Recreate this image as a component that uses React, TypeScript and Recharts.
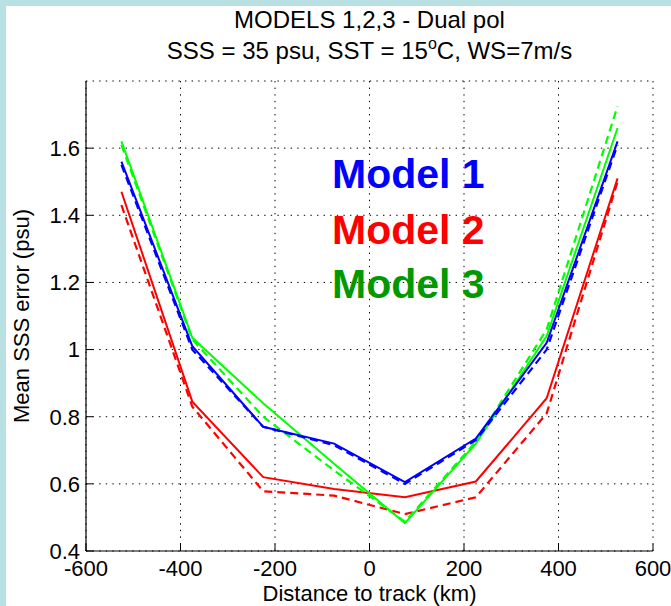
import React from "react";
import { LineChart, Line, XAxis, YAxis, CartesianGrid } from "recharts";

// Distance to track (km)
const distances = [-525, -375, -225, -75, 75, 225, 375, 525];

// Mean SSS error (psu)
const model1Solid = [1.56, 1.01, 0.77, 0.72, 0.605, 0.735, 1.02, 1.62];
const model1Dashed = [1.55, 1.0, 0.77, 0.715, 0.6, 0.73, 1.0, 1.61];
const model2Solid = [1.47, 0.845, 0.62, 0.585, 0.56, 0.607, 0.855, 1.51];
const model2Dashed = [1.43, 0.83, 0.578, 0.565, 0.51, 0.56, 0.81, 1.5];
const model3Solid = [1.62, 1.035, 0.84, 0.66, 0.483, 0.72, 1.04, 1.66];
const model3Dashed = [1.61, 1.03, 0.8, 0.64, 0.487, 0.725, 1.06, 1.725];

const xTicks = [-600, -400, -200, 0, 200, 400, 600];
const yTicks = [0.4, 0.6, 0.8, 1.0, 1.2, 1.4, 1.6];

const titleLine1 = "MODELS 1,2,3 - Dual pol";
const xLabel = "Distance to track (km)";
const yLabel = "Mean SSS error (psu)";
const modelLabels = ["Model 1", "Model 2", "Model 3"];

const data = distances.map((d, i) => ({
  x: d,
  m1s: model1Solid[i],
  m1d: model1Dashed[i],
  m2s: model2Solid[i],
  m2d: model2Dashed[i],
  m3s: model3Solid[i],
  m3d: model3Dashed[i],
}));

const FONT = "'Liberation Sans', Arial, Helvetica, sans-serif";
const BLUE = "#0000ff";
const RED = "#ff0000";
const GREEN = "#00ff00";
const DASH = "8 5";

const fmtY = (v: number) => (Math.abs(v - 1) < 1e-9 ? "1" : String(Math.round(v * 10) / 10));

export default function App() {
  return (
    <div
      style={{
        position: "fixed",
        left: 0,
        top: 0,
        width: 671,
        height: 606,
        background: "#b9e0e3",
        overflow: "hidden",
      }}
    >
      <div
        style={{
          position: "absolute",
          left: 6,
          top: 6,
          width: 665,
          height: 600,
          background: "#ffffff",
        }}
      />
      <div style={{ position: "absolute", left: 0, top: 0 }}>
        <LineChart
          width={671}
          height={606}
          data={data}
          margin={{ top: 81, right: 18, bottom: 0, left: 0 }}
        >
          <CartesianGrid stroke="#000" strokeDasharray="1.4 5.2" strokeWidth={1} />
          <XAxis
            dataKey="x"
            type="number"
            domain={[-600, 600]}
            ticks={xTicks}
            height={55}
            tickLine={{ stroke: "#000", strokeWidth: 1 }}
            tickSize={-7}
            tickMargin={16}
            axisLine={{ stroke: "#000", strokeWidth: 1.2 }}
            tick={{ fill: "#000", fontSize: 22, fontFamily: FONT }}
            interval={0}
          />
          <YAxis
            type="number"
            domain={[0.4, 1.8]}
            ticks={yTicks}
            width={86}
            tickLine={{ stroke: "#000", strokeWidth: 1 }}
            tickSize={-7}
            tickMargin={13}
            axisLine={{ stroke: "#000", strokeWidth: 1.2 }}
            tick={{ fill: "#000", fontSize: 22, fontFamily: FONT }}
            tickFormatter={fmtY}
            interval={0}
            allowDataOverflow
          />
          <Line dataKey="m2d" stroke={RED} strokeWidth={2.2} strokeDasharray={DASH} dot={false} isAnimationActive={false} type="linear" />
          <Line dataKey="m2s" stroke={RED} strokeWidth={2} dot={false} isAnimationActive={false} type="linear" />
          <Line dataKey="m3d" stroke={GREEN} strokeWidth={2.2} strokeDasharray={DASH} dot={false} isAnimationActive={false} type="linear" />
          <Line dataKey="m3s" stroke={GREEN} strokeWidth={2} dot={false} isAnimationActive={false} type="linear" />
          <Line dataKey="m1d" stroke={BLUE} strokeWidth={2.2} strokeDasharray={DASH} dot={false} isAnimationActive={false} type="linear" />
          <Line dataKey="m1s" stroke={BLUE} strokeWidth={2} dot={false} isAnimationActive={false} type="linear" />
        </LineChart>
      </div>
      <svg
        width={671}
        height={606}
        style={{ position: "absolute", left: 0, top: 0, pointerEvents: "none" }}
      >
        <text x={369.5} y={28} textAnchor="middle" fontFamily={FONT} fontSize={24} fill="#000">
          {titleLine1}
        </text>
        <text x={369.5} y={59} textAnchor="middle" fontFamily={FONT} fontSize={24} fill="#000">
          <tspan>SSS = 35 psu, SST = 15</tspan>
          <tspan fontSize={16} dy={-10}>o</tspan>
          <tspan dy={10}>C, WS=7m/s</tspan>
        </text>
        <text x={369.5} y={601} textAnchor="middle" fontFamily={FONT} fontSize={22} fill="#000">
          {xLabel}
        </text>
        <text
          x={0}
          y={0}
          transform="translate(29,316) rotate(-90)"
          textAnchor="middle"
          fontFamily={FONT}
          fontSize={22}
          fill="#000"
        >
          {yLabel}
        </text>
        <text x={332} y={188} fontFamily={FONT} fontWeight="bold" fontSize={41} fill={BLUE}>
          {modelLabels[0]}
        </text>
        <text x={332} y={244} fontFamily={FONT} fontWeight="bold" fontSize={41} fill={RED}>
          {modelLabels[1]}
        </text>
        <text x={332} y={298} fontFamily={FONT} fontWeight="bold" fontSize={41} fill="#009a00">
          {modelLabels[2]}
        </text>
      </svg>
    </div>
  );
}
